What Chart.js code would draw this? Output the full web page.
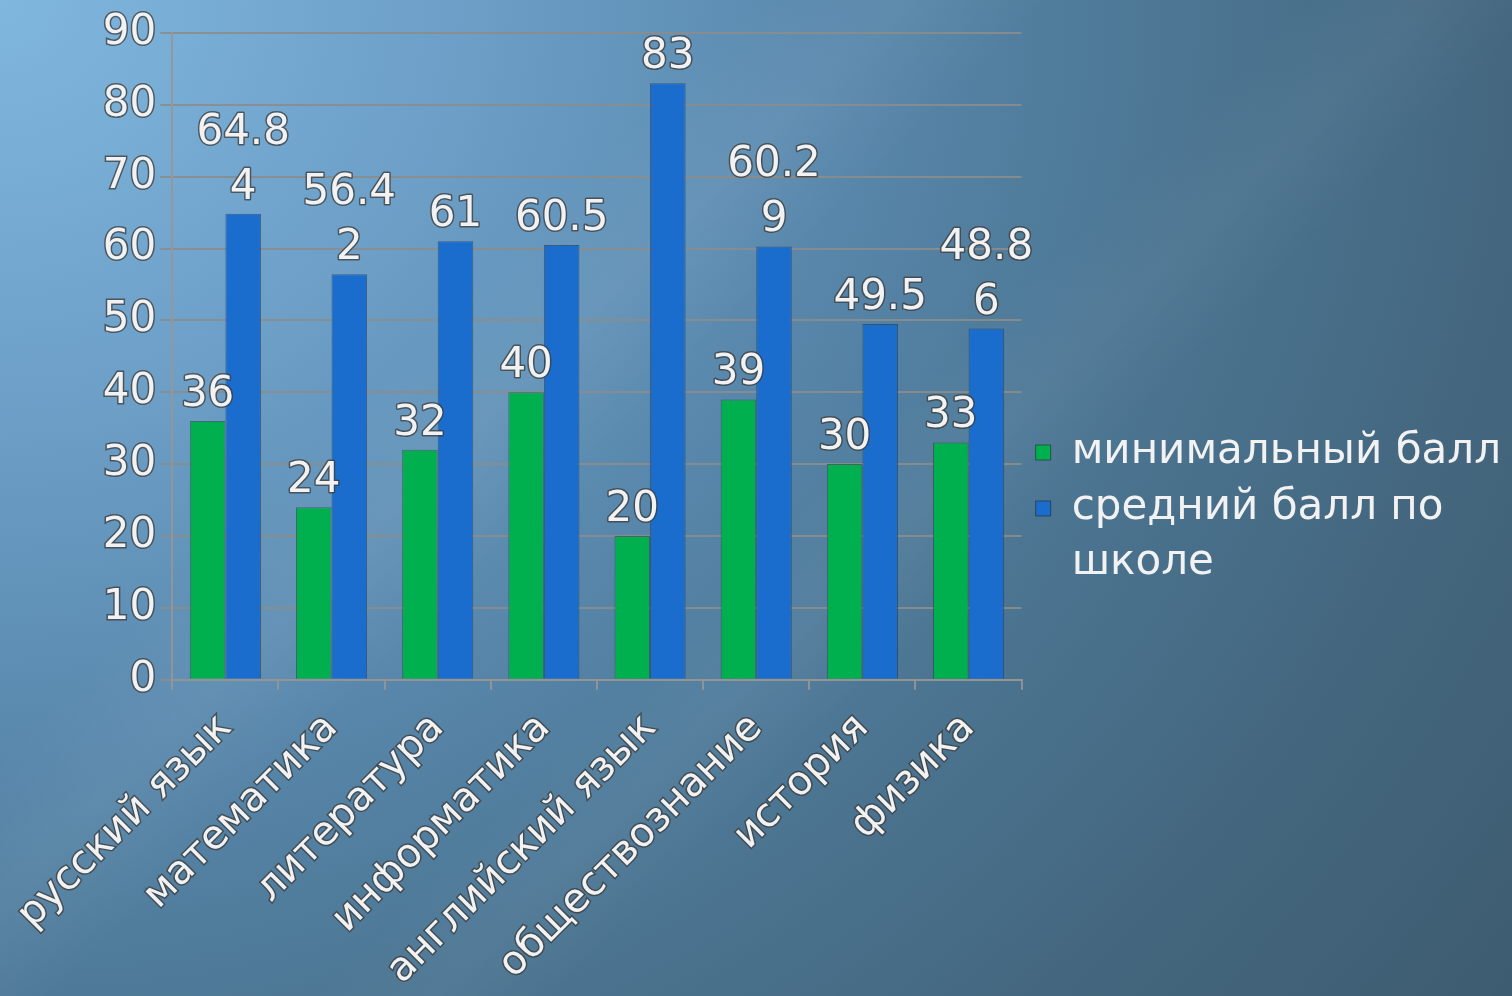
<!DOCTYPE html>
<html>
<head>
<meta charset="utf-8">
<script src="https://cdn.jsdelivr.net/npm/chart.js@4"></script>
<style>
  html, body { margin: 0; padding: 0; }
  body {
    width: 1512px; height: 996px; overflow: hidden;
    background:
      linear-gradient(135deg, rgba(255,255,255,0) 30%, rgba(255,255,255,0.05) 36%, rgba(255,255,255,0) 42%, rgba(255,255,255,0) 52%, rgba(255,255,255,0.04) 57%, rgba(255,255,255,0) 62%),
      radial-gradient(ellipse 1900px 1700px at 0% 0%, #80b7de 0%, #6c9ec6 25%, #5887ab 45%, #4c7693 62%, #44677f 80%, #3d5b70 100%);
  }
  #wrap { position: absolute; left: 0; top: 0; width: 1512px; height: 996px; }
</style>
</head>
<body>
<div id="wrap"><canvas id="myChart" width="1512" height="996"></canvas></div>
<script>
// категории и значения
const subjects = ['русский язык', 'математика', 'литература', 'информатика', 'английский язык', 'обществознание', 'история', 'физика'];
const minScore = [36, 24, 32, 40, 20, 39, 30, 33];
const avgScore = [64.84, 56.42, 61, 60.5, 83, 60.29, 49.5, 48.86];
const seriesNames = ['минимальный балл', 'средний балл по школе'];
const yTicks = [0, 10, 20, 30, 40, 50, 60, 70, 80, 90];

const textColor = '#f2f2f2';
const fontFamily = '"DejaVu Sans", "Liberation Sans", Arial, sans-serif';

// подписи значений над столбцами (как в Excel: перенос после 4 символов)
const valueLabels = {
    id: 'valueLabels',
    afterDatasetsDraw(chart) {
        const ctx = chart.ctx;
        ctx.save();
        ctx.font = '42px ' + fontFamily;
        ctx.textAlign = 'center';
        ctx.textBaseline = 'bottom';
        ctx.lineJoin = 'round';
        chart.data.datasets.forEach((ds, di) => {
            const meta = chart.getDatasetMeta(di);
            meta.data.forEach((bar, i) => {
                const s = String(ds.data[i]);
                const lines = s.length > 4 ? [s.slice(0, 4), s.slice(4)] : [s];
                let y = bar.y - 5;
                for (let k = lines.length - 1; k >= 0; k--) {
                    ctx.strokeStyle = 'rgba(60,60,60,0.75)';
                    ctx.lineWidth = 3;
                    ctx.strokeText(lines[k], bar.x, y);
                    ctx.fillStyle = textColor;
                    ctx.fillText(lines[k], bar.x, y);
                    y -= 55;
                }
            });
        });
        ctx.restore();
    }
};

const ctx = document.getElementById('myChart').getContext('2d');
const chart = new Chart(ctx, {
    type: 'bar',
    data: {
        labels: subjects,
        datasets: [{
            label: seriesNames[0],
            data: minScore,
            backgroundColor: '#00b04f',
            borderColor: 'rgba(40,70,60,0.6)',
            borderWidth: 1
        }, {
            label: seriesNames[1],
            data: avgScore,
            backgroundColor: '#1a6dcc',
            borderColor: 'rgba(30,50,80,0.6)',
            borderWidth: 1
        }]
    },
    options: {
        responsive: false,
        animation: false,
        devicePixelRatio: 1,
        layout: { padding: { left: 91, top: 33, right: 1, bottom: 0 } },
        datasets: { bar: { categoryPercentage: 0.67, barPercentage: 1 } },
        plugins: {
            tooltip: { enabled: false },
            legend: {
                position: 'right',
                align: 'center',
                maxWidth: 540,
                labels: {
                    color: textColor,
                    font: { size: 42, family: fontFamily, lineHeight: 1.31 },
                    boxWidth: 15,
                    boxHeight: 15,
                    padding: 14,
                    generateLabels(chart) {
                        return chart.data.datasets.map((ds, i) => ({
                            text: i === 1 ? ['средний балл по', 'школе'] : ds.label,
                            fillStyle: ds.backgroundColor,
                            strokeStyle: 'rgba(40,40,40,0.6)',
                            lineWidth: 1,
                            fontColor: textColor,
                            datasetIndex: i
                        }));
                    }
                }
            }
        },
        scales: {
            x: {
                // подписи уходят за нижний край, как на слайде
                afterFit(scale) { scale.height -= 13; },
                grid: { drawOnChartArea: false, drawTicks: true, tickLength: 10, color: 'rgba(150,150,150,0.9)', lineWidth: 2, offset: true },
                border: { color: 'rgba(150,150,150,0.9)', width: 2 },
                ticks: {
                    color: textColor,
                    font: { size: 40, family: fontFamily },
                    minRotation: 45,
                    maxRotation: 45,
                    padding: 15,
                    textStrokeColor: 'rgba(60,60,60,0.75)',
                    textStrokeWidth: 3,
                    autoSkip: false
                }
            },
            y: {
                min: 0,
                max: 90,
                afterBuildTicks(scale) { scale.ticks = yTicks.map(v => ({ value: v })); },
                grid: { color: 'rgba(140,140,140,0.9)', lineWidth: 2, tickLength: 12 },
                border: { color: 'rgba(150,150,150,0.9)', width: 2 },
                ticks: {
                    color: textColor,
                    font: { size: 42, family: fontFamily },
                    padding: 4,
                    textStrokeColor: 'rgba(60,60,60,0.75)',
                    textStrokeWidth: 3
                }
            }
        }
    },
    plugins: [valueLabels]
});
</script>
</body>
</html>
